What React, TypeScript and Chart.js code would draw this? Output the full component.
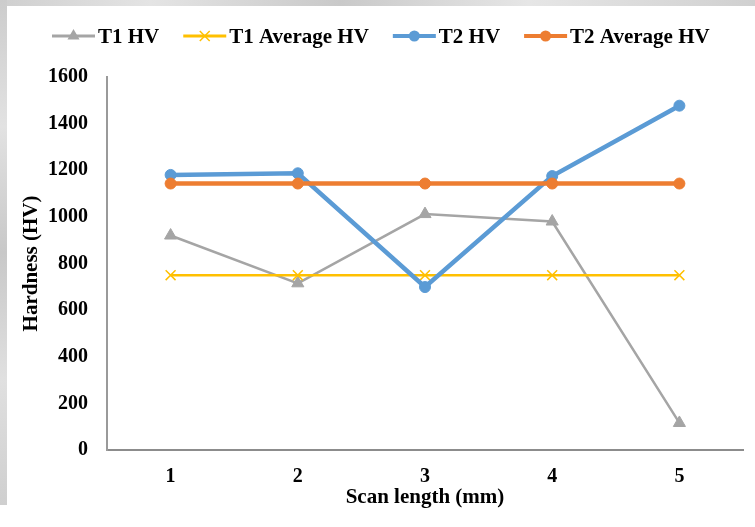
import React, { useEffect, useRef } from 'react';
import { Chart, registerables } from 'chart.js';

Chart.register(...registerables);

const categories = ['1', '2', '3', '4', '5'];
const t1HV = [920, 715, 1012, 980, 116];
const t1AvgHV = [750, 750, 750, 750, 750];
const t2HV = [1180, 1187, 699, 1175, 1477];
const t2AvgHV = [1143, 1143, 1143, 1143, 1143];
const yMin = 0;
const yMax = 1600;
const yStep = 200;

const FONT = '"Liberation Serif", "Times New Roman", serif';

function drawMarker(ctx: CanvasRenderingContext2D, style: string, x: number, y: number, r: number, fill: string, stroke: string, bw: number) {
  ctx.save();
  ctx.fillStyle = fill;
  ctx.strokeStyle = stroke;
  ctx.lineWidth = bw;
  ctx.beginPath();
  if (style === 'triangle') {
    ctx.moveTo(x, y - r);
    ctx.lineTo(x + 0.866 * r, y + 0.5 * r);
    ctx.lineTo(x - 0.866 * r, y + 0.5 * r);
    ctx.closePath();
    ctx.fill();
  } else if (style === 'crossRot') {
    const d = r * 0.7071;
    ctx.moveTo(x - d, y - d);
    ctx.lineTo(x + d, y + d);
    ctx.moveTo(x + d, y - d);
    ctx.lineTo(x - d, y + d);
    ctx.stroke();
  } else {
    ctx.arc(x, y, r, 0, Math.PI * 2);
    ctx.fill();
  }
  ctx.restore();
}

const legendPlugin = {
  id: 'excelLegend',
  afterDraw(chart: any) {
    const ctx = chart.ctx as CanvasRenderingContext2D;
    ctx.save();
    ctx.font = `bold 21px ${FONT}`;
    let x = 52;
    const y = 36;
    chart.data.datasets.forEach((ds: any) => {
      ctx.strokeStyle = ds.borderColor;
      ctx.lineWidth = ds.legendLineWidth;
      ctx.beginPath();
      ctx.moveTo(x, y);
      ctx.lineTo(x + 43, y);
      ctx.stroke();
      drawMarker(ctx, ds.pointStyle, x + 21.5, y, ds.pointRadius, ds.pointBackgroundColor, ds.pointBorderColor, ds.pointBorderWidth);
      ctx.fillStyle = '#000';
      ctx.textBaseline = 'middle';
      ctx.textAlign = 'left';
      ctx.fillText(ds.label, x + 46, y + 2);
      x += 46 + ctx.measureText(ds.label).width + 24;
    });
    ctx.restore();
  },
};

export default function App() {
  const ref = useRef<HTMLCanvasElement | null>(null);

  useEffect(() => {
    if (!ref.current) return;
    const chart = new Chart(ref.current, {
      type: 'line',
      data: {
        labels: categories,
        datasets: [
          {
            label: 'T1 HV',
            data: t1HV,
            borderColor: '#A5A5A5',
            backgroundColor: '#A5A5A5',
            borderWidth: 2.5,
            pointStyle: 'triangle',
            pointRadius: 7,
            pointBackgroundColor: '#A5A5A5',
            pointBorderColor: '#A5A5A5',
            pointBorderWidth: 1,
            legendLineWidth: 3,
            order: 4,
          } as any,
          {
            label: 'T1 Average HV',
            data: t1AvgHV,
            borderColor: '#FFC000',
            backgroundColor: '#FFC000',
            borderWidth: 2.5,
            pointStyle: 'crossRot',
            pointRadius: 7,
            pointBackgroundColor: '#FFC000',
            pointBorderColor: '#FFC000',
            pointBorderWidth: 1.5,
            legendLineWidth: 3,
            order: 3,
          } as any,
          {
            label: 'T2 HV',
            data: t2HV,
            borderColor: '#5B9BD5',
            backgroundColor: '#5B9BD5',
            borderWidth: 4.5,
            pointStyle: 'circle',
            pointRadius: 5.5,
            pointBackgroundColor: '#5B9BD5',
            pointBorderColor: '#5B9BD5',
            pointBorderWidth: 1,
            legendLineWidth: 4,
            order: 2,
          } as any,
          {
            label: 'T2 Average HV',
            data: t2AvgHV,
            borderColor: '#ED7D31',
            backgroundColor: '#ED7D31',
            borderWidth: 4.5,
            pointStyle: 'circle',
            pointRadius: 5.5,
            pointBackgroundColor: '#ED7D31',
            pointBorderColor: '#ED7D31',
            pointBorderWidth: 1,
            legendLineWidth: 4,
            order: 1,
          } as any,
        ],
      },
      options: {
        responsive: false,
        animation: false,
        layout: { padding: { top: 77, right: 12, left: 0, bottom: 0 } },
        plugins: {
          legend: { display: false },
          tooltip: { enabled: false },
        },
        scales: {
          x: {
            type: 'category',
            offset: true,
            grid: { display: false, drawTicks: false },
            border: { display: true, color: '#8c8c8c', width: 2 },
            ticks: { font: { family: FONT, size: 20, weight: 'bold' }, color: '#000', padding: 15 },
            title: {
              display: true,
              text: 'Scan length (mm)',
              font: { family: FONT, size: 21, weight: 'bold' },
              color: '#000',
              padding: { top: 0, bottom: 17 },
            },
            afterFit: (scale: any) => { scale.height = 77; },
          },
          y: {
            min: yMin,
            max: yMax,
            grid: { display: false, drawTicks: false },
            border: { display: true, color: '#9a9a9a', width: 2 },
            ticks: {
              stepSize: yStep,
              font: { family: FONT, size: 20, weight: 'bold' },
              color: '#000',
              padding: 19,
              callback: (v: any) => String(v),
            },
            title: {
              display: true,
              text: 'Hardness (HV)',
              font: { family: FONT, size: 21, weight: 'bold' },
              color: '#000',
              padding: { top: 19, bottom: 0 },
            },
            afterFit: (scale: any) => { scale.width = 107; },
          },
        },
      } as any,
      plugins: [legendPlugin],
    });
    return () => chart.destroy();
  }, []);

  return (
    <div style={{ position: 'absolute', left: 0, top: 0, width: 755, height: 527, background: '#ffffff', overflow: 'hidden' }}>
      <div style={{ position: 'absolute', left: 0, top: 0, width: 755, height: 6, background: 'linear-gradient(90deg, #cfcfcf, #e4e4e4 20%, #c9c9c9 45%, #e6e6e6 70%, #d0d0d0)' }} />
      <div style={{ position: 'absolute', left: 0, top: 0, width: 7, height: 505, background: 'linear-gradient(180deg, #cccccc, #e2e2e2 25%, #c8c8c8 50%, #e0e0e0 75%, #cfcfcf)' }} />
      <canvas ref={ref} width={755} height={527} style={{ position: 'absolute', left: 0, top: 0 }} />
    </div>
  );
}
